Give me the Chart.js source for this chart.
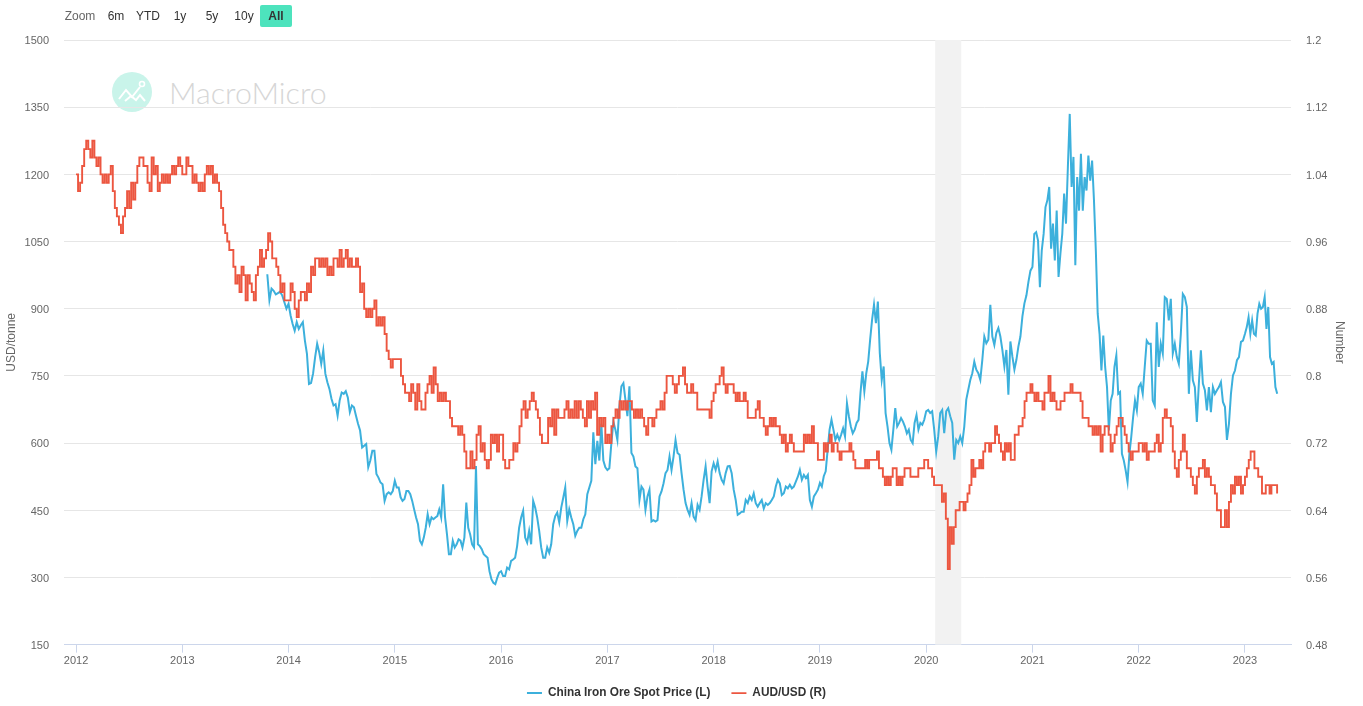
<!DOCTYPE html>
<html>
<head>
<meta charset="utf-8">
<title>China Iron Ore Spot Price vs AUD/USD</title>
<script src="https://cdn.jsdelivr.net/npm/chart.js@4"></script>
<style>
  html, body { margin: 0; padding: 0; background: #fff; overflow: hidden; }
  body { width: 1363px; height: 706px; position: relative; font-family: "Liberation Sans", sans-serif; }
  #chart-box { position: absolute; left: 0; top: 0; width: 1363px; height: 706px; }
  .zoom-item { position: absolute; top: 5px; height: 22px; line-height: 23px; font-size: 12px; color: #333; text-align: center; }
  .zoom-label { color: #666; }
  .zoom-on { background: #4de3bd; border-radius: 2px; font-weight: bold; }
  #logo { position: absolute; left: 112px; top: 72px; }
  #logo-text { position: absolute; left: 169px; top: 72px; line-height: 40px; font-family: Lato, "Open Sans", sans-serif; font-weight: 300; font-size: 30.4px; color: #d6d6d6; }
</style>
</head>
<body>
<svg id="logo" width="40" height="40" viewBox="0 0 40 40">
  <circle cx="20" cy="20" r="20" fill="#c9f4ea"/>
  <polyline points="7,27 14,18 20,25 28,15" fill="none" stroke="#fff" stroke-width="2"/>
  <polyline points="13,29 19,24 24,28 28,23 33,29" fill="none" stroke="#fff" stroke-width="2"/>
  <circle cx="30" cy="12" r="2.5" fill="none" stroke="#fff" stroke-width="1.6"/>
</svg>
<div id="logo-text">MacroMicro</div>
<div id="chart-box"><canvas id="chart" width="1363" height="706"></canvas></div>
<span class="zoom-item zoom-label" style="left:64px;width:32px">Zoom</span>
<span class="zoom-item" style="left:104px;width:24px">6m</span>
<span class="zoom-item" style="left:134px;width:28px">YTD</span>
<span class="zoom-item" style="left:168px;width:24px">1y</span>
<span class="zoom-item" style="left:200px;width:24px">5y</span>
<span class="zoom-item" style="left:232px;width:24px">10y</span>
<span class="zoom-item zoom-on" style="left:260px;width:32px">All</span>

<script>
// Tick labels
const years = [2012, 2013, 2014, 2015, 2016, 2017, 2018, 2019, 2020, 2021, 2022, 2023];
const leftTicks = [150, 300, 450, 600, 750, 900, 1050, 1200, 1350, 1500];
const rightTicks = [0.48, 0.56, 0.64, 0.72, 0.8, 0.88, 0.96, 1.04, 1.12, 1.2];

// Shaded period, in years
const shadeFrom = 2020.085;
const shadeTo = 2020.33;

// AUD/USD (R)
const aud2012 = [1.04,1.02,1.03,1.05,1.07,1.08,1.07,1.06,1.08,1.06,1.05,1.06,1.04,1.03,1.04,1.03,1.04,1.05,1.02,1.00,0.99,0.98,0.97,0.99,1.00,1.02,1.00,1.03,1.01,1.03,1.05,1.06,1.06,1.05,1.05,1.03,1.02,1.06,1.04,1.05,1.02,1.03,1.04,1.03,1.04,1.03,1.04,1.05,1.04,1.05,1.06,1.05];
const aud2013 = [1.04,1.04,1.06,1.05,1.05,1.03,1.04,1.03,1.02,1.03,1.02,1.04,1.05,1.04,1.05,1.03,1.04,1.03,1.02,1.00,0.98,0.97,0.96,0.95,0.95,0.93,0.91,0.92,0.90,0.93,0.92,0.89,0.92,0.91,0.90,0.89,0.92,0.93,0.95,0.93,0.94,0.95,0.97,0.96,0.94,0.94,0.93,0.92,0.90,0.91,0.89,0.89];
const aud2014 = [0.89,0.91,0.90,0.88,0.87,0.89,0.90,0.90,0.89,0.91,0.90,0.93,0.92,0.94,0.94,0.93,0.94,0.93,0.94,0.92,0.93,0.92,0.94,0.94,0.93,0.95,0.93,0.94,0.95,0.93,0.94,0.93,0.93,0.94,0.93,0.90,0.91,0.88,0.87,0.88,0.87,0.88,0.89,0.86,0.87,0.86,0.87,0.85,0.83,0.82,0.81,0.82];
const aud2015 = [0.82,0.82,0.82,0.80,0.79,0.78,0.78,0.77,0.79,0.78,0.76,0.79,0.77,0.76,0.76,0.78,0.79,0.80,0.78,0.81,0.79,0.77,0.78,0.77,0.78,0.77,0.77,0.75,0.74,0.74,0.74,0.73,0.74,0.73,0.71,0.69,0.69,0.71,0.69,0.70,0.73,0.74,0.71,0.72,0.70,0.69,0.70,0.73,0.72,0.73,0.71,0.73];
const aud2016 = [0.73,0.70,0.69,0.69,0.70,0.70,0.72,0.71,0.72,0.74,0.76,0.77,0.75,0.76,0.77,0.78,0.77,0.76,0.75,0.73,0.72,0.72,0.72,0.75,0.74,0.76,0.73,0.76,0.75,0.75,0.75,0.76,0.77,0.75,0.76,0.75,0.77,0.75,0.77,0.76,0.75,0.74,0.77,0.75,0.77,0.76,0.78,0.73,0.75,0.74,0.75,0.72];
const aud2017 = [0.73,0.72,0.74,0.75,0.76,0.75,0.77,0.76,0.77,0.76,0.77,0.77,0.76,0.75,0.76,0.75,0.76,0.75,0.74,0.73,0.75,0.75,0.74,0.75,0.76,0.76,0.77,0.76,0.78,0.80,0.80,0.80,0.79,0.78,0.79,0.80,0.80,0.81,0.79,0.78,0.78,0.79,0.78,0.78,0.76,0.76,0.76,0.76,0.76,0.76,0.75,0.77];
const aud2018 = [0.78,0.79,0.79,0.80,0.81,0.79,0.78,0.79,0.79,0.79,0.78,0.77,0.78,0.77,0.77,0.78,0.77,0.75,0.75,0.75,0.75,0.76,0.77,0.75,0.75,0.74,0.73,0.74,0.75,0.74,0.75,0.74,0.74,0.73,0.72,0.73,0.71,0.72,0.73,0.72,0.71,0.71,0.71,0.71,0.71,0.73,0.72,0.73,0.72,0.74,0.72,0.72,0.70];
const aud2019 = [0.70,0.70,0.72,0.71,0.72,0.73,0.71,0.72,0.72,0.71,0.70,0.71,0.71,0.71,0.71,0.72,0.71,0.70,0.69,0.69,0.69,0.69,0.69,0.70,0.69,0.70,0.70,0.70,0.70,0.71,0.69,0.69,0.68,0.67,0.68,0.67,0.68,0.69,0.69,0.67,0.68,0.67,0.68,0.69,0.69,0.69,0.68,0.68,0.68,0.68,0.69,0.69,0.69,0.70];
const aud2020 = [0.70,0.69,0.69,0.68,0.67,0.67,0.67,0.67,0.65,0.66,0.63,0.57,0.62,0.60,0.62,0.64,0.64,0.65,0.65,0.64,0.65,0.66,0.67,0.70,0.68,0.69,0.69,0.70,0.69,0.71,0.72,0.72,0.71,0.72,0.72,0.74,0.73,0.72,0.71,0.70,0.72,0.71,0.72,0.70,0.70,0.73,0.73,0.74,0.74,0.75,0.77,0.78,0.78,0.79];
const aud2021 = [0.78,0.77,0.78,0.77,0.77,0.76,0.78,0.78,0.80,0.77,0.78,0.77,0.76,0.76,0.77,0.77,0.78,0.78,0.78,0.79,0.78,0.78,0.78,0.78,0.77,0.75,0.75,0.75,0.74,0.74,0.73,0.74,0.73,0.74,0.71,0.73,0.74,0.74,0.73,0.71,0.72,0.73,0.74,0.75,0.75,0.74,0.73,0.72,0.71,0.70,0.71,0.71,0.71];
const aud2022 = [0.72,0.72,0.71,0.72,0.70,0.71,0.71,0.71,0.72,0.73,0.71,0.72,0.75,0.76,0.75,0.75,0.74,0.71,0.69,0.68,0.70,0.71,0.73,0.71,0.69,0.69,0.68,0.67,0.66,0.68,0.69,0.69,0.70,0.68,0.69,0.68,0.67,0.67,0.66,0.64,0.64,0.62,0.62,0.64,0.62,0.65,0.67,0.66,0.68,0.67,0.68,0.66,0.67];
const aud2023 = [0.68,0.69,0.70,0.71,0.71,0.69,0.69,0.68,0.68,0.66,0.66,0.67,0.67,0.66,0.67,0.67,0.67,0.66];

// China Iron Ore Spot Price (L), USD/tonne
const ore2013 = [977,919,945,940,932,935,938,930,915,900];
const ore2014 = [911,885,866,851,870,855,863,870,829,799,732,734,755,792,822,803,777,807,755,736,721,699,684,687,661,695,713,710,716,702,669,684,680,661,643,628,590,594,598,546,561,583,583,531,523,512,508,471,486,490,486,493];
const ore2015 = [516,501,501,479,471,475,493,493,486,471,452,434,419,382,374,389,411,441,419,434,430,434,437,452,434,508,434,396,352,352,382,367,374,385,382,367,389,467,411,396,374,367,549,374,370,363,352,348,344,314,296,288,285,299,311];
const ore2016 = [314,303,303,322,318,337,340,344,370,411,434,449,389,378,404,374,471,456,434,404,367,344,344,367,355,374,419,437,445,423,456,478,501,426,452,434,419,393,404,411,411,430,441,486,501,516,624,553,605,561,643,561,546];
const ore2017 = [540,544,600,648,630,607,682,727,734,697,660,727,578,570,548,544,473,503,496,451,481,496,425,428,425,428,481,492,510,533,540,570,540,570,607,578,574,533,496,466,451,440,466,436,428,462,451,481,518,548,503,466,537];
const ore2018 = [555,540,559,533,518,510,533,548,549,533,496,473,440,443,447,447,473,466,481,473,488,466,458,466,473,454,466,462,466,473,481,503,518,510,484,488,503,499,507,499,503,514,525,540,518,529,522,529,473,458,481,488,496];
const ore2019 = [511,503,526,537,585,630,652,630,607,619,607,619,633,615,689,660,637,622,630,645,652,712,760,715,756,782,831,875,909,868,916,801,741,771,667,637,600,585,630,678,637,645,656,648,637,622,630,607,600,645,663,630,645,641,652];
const ore2020 = [671,674,667,671,630,581,615,667,674,622,671,678,660,645,563,607,600,615,600,637,697,719,741,756,782,764,756,741,786,838,823,831,909,838,819,846,857,838,808,771,808,708,827,793,764,786,816,838,883,912,930,960,985];
const ore2021 = [993,1067,1071,1052,948,1030,1067,1127,1142,1172,1034,1090,1008,1119,971,1023,1067,1157,1090,1216,1335,1172,1239,997,1194,1119,1246,1119,1194,1164,1242,1186,1231,1142,1030,889,844,762,840,770,725,628,695,710,770,796,710,714,576,561,539,513,576,614,658,695,673];
const ore2022 = [725,733,710,770,829,822,822,695,684,870,770,822,800,926,922,874,922,800,822,792,777,844,933,926,904,710,807,740,725,647,733,807,733,718,673,725,669,725,710,718,725,736,692,681,607,643,710,751,762,785,792,826,829];
const ore2023 = [844,859,881,844,874,844,840,889,911,900,904,926,855,904,792,777,781,725,710];

// spreads one array of readings evenly over [start, start + span) years
function place(values, start, span) {
    return values.map((v, i) => ({ x: start + (i / values.length) * span, y: v }));
}

const audPoints = [
    ...place(aud2012, 2012, 1), ...place(aud2013, 2013, 1), ...place(aud2014, 2014, 1),
    ...place(aud2015, 2015, 1), ...place(aud2016, 2016, 1), ...place(aud2017, 2017, 1),
    ...place(aud2018, 2018, 1), ...place(aud2019, 2019, 1), ...place(aud2020, 2020, 1),
    ...place(aud2021, 2021, 1), ...place(aud2022, 2022, 1), ...place(aud2023, 2023, 0.32)
];
const orePoints = [
    ...place(ore2013, 2013.8, 0.2), ...place(ore2014, 2014, 1), ...place(ore2015, 2015, 1),
    ...place(ore2016, 2016, 1), ...place(ore2017, 2017, 1), ...place(ore2018, 2018, 1),
    ...place(ore2019, 2019, 1), ...place(ore2020, 2020, 1), ...place(ore2021, 2021, 1),
    ...place(ore2022, 2022, 1), ...place(ore2023, 2023, 0.32)
];

// grey band under the lines
const shadePlugin = {
    id: 'shade',
    beforeDatasetsDraw(chart) {
        const { ctx, chartArea, scales } = chart;
        const a = scales.x.getPixelForValue(shadeFrom);
        const b = scales.x.getPixelForValue(shadeTo);
        ctx.save();
        ctx.fillStyle = '#f2f2f2';
        ctx.fillRect(a, chartArea.top, b - a, chartArea.bottom - chartArea.top);
        ctx.restore();
    }
};

const tickFont = { family: '"Liberation Sans", sans-serif', size: 11 };
const titleFont = { family: '"Liberation Sans", sans-serif', size: 12 };

new Chart(document.getElementById('chart').getContext('2d'), {
    type: 'line',
    plugins: [shadePlugin],
    data: {
        datasets: [
            {
                label: 'China Iron Ore Spot Price (L)',
                data: orePoints,
                yAxisID: 'left',
                borderColor: '#3cb0dc',
                backgroundColor: '#3cb0dc',
                borderWidth: 2,
                pointRadius: 0,
                order: 2
            },
            {
                label: 'AUD/USD (R)',
                data: audPoints,
                yAxisID: 'right',
                stepped: true,
                borderColor: '#ec5640',
                backgroundColor: '#ec5640',
                borderWidth: 1.9,
                pointRadius: 0,
                order: 1
            }
        ]
    },
    options: {
        responsive: false,
        animation: false,
        // the legend's row padding also sets the gap between entries, so it runs past the bottom edge
        layout: { padding: { left: 0, right: 10, top: 40, bottom: -3 } },
        plugins: {
            tooltip: { enabled: false },
            legend: {
                position: 'bottom',
                labels: {
                    usePointStyle: true,
                    pointStyle: 'line',
                    pointStyleWidth: 15,
                    padding: 21,
                    color: '#333',
                    font: { family: '"Liberation Sans", sans-serif', size: 11.85, weight: 'bold' },
                    sort: (a, b) => a.datasetIndex - b.datasetIndex
                }
            }
        },
        scales: {
            x: {
                type: 'linear',
                min: 2011.887,
                max: 2023.433,
                afterBuildTicks: scale => { scale.ticks = years.map(y => ({ value: y })); },
                afterFit: scale => { scale.height = 21.5; },
                border: { color: '#ccd6eb' },
                grid: { drawOnChartArea: false, drawTicks: true, tickLength: 8, tickColor: '#ccd6eb' },
                ticks: { color: '#666', font: tickFont, padding: 2, maxRotation: 0, autoSkip: false, callback: v => String(v) }
            },
            left: {
                position: 'left',
                min: 150,
                max: 1500,
                afterBuildTicks: scale => { scale.ticks = leftTicks.map(v => ({ value: v })); },
                afterFit: scale => { scale.width = 64; },
                border: { display: false },
                grid: { color: '#e6e6e6', drawTicks: false },
                ticks: { color: '#666', font: tickFont, padding: 15, autoSkip: false, labelOffset: 1.2, callback: v => String(v) },
                title: { display: true, text: 'USD/tonne', color: '#666', font: titleFont, padding: { top: 4, bottom: 0 } }
            },
            right: {
                position: 'right',
                min: 0.48,
                max: 1.2,
                afterBuildTicks: scale => { scale.ticks = rightTicks.map(v => ({ value: v })); },
                afterFit: scale => { scale.width = 62; },
                border: { display: false },
                grid: { drawOnChartArea: false, drawTicks: false },
                ticks: { color: '#666', font: tickFont, padding: 15, autoSkip: false, labelOffset: 1.2, callback: v => String(v) },
                title: { display: true, text: 'Number', color: '#666', font: titleFont, padding: { top: 6, bottom: 0 } }
            }
        }
    }
});
</script>
</body>
</html>
